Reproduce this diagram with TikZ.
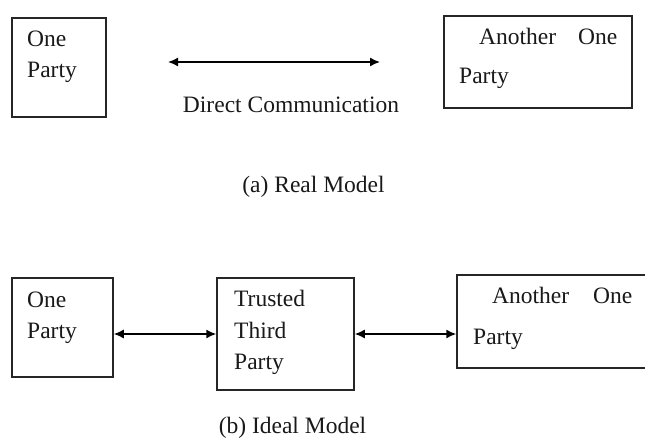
\documentclass[tikz,border=0pt]{standalone}
\usepackage{fontspec}
\setmainfont{Liberation Serif}
\usetikzlibrary{arrows.meta}
\begin{document}
\begin{tikzpicture}[x=1pt,y=-1pt,
  box/.style={draw,line width=1.5pt,inner sep=0pt,draw=black!85},
  lbl/.style={anchor=base west,inner sep=0pt,font=\fontsize{23.5}{28}\selectfont,text=black!90},
  captxt/.style={anchor=base,inner sep=0pt,font=\fontsize{23.5}{28}\selectfont,text=black!90},
  link/.style={line width=1.5pt,{Latex[length=10pt,width=9pt]}-{Latex[length=10pt,width=9pt]}}]
\clip (0,0) rectangle (645,441);
\fill[white] (0,0) rectangle (645,441);
% (a) Real model
\node[box,minimum width=94pt,minimum height=99pt] (a1) at (59,67.5) {};
\node[lbl] (a1t1) at (27,47) {One};
\node[lbl] (a1t2) at (27,78) {Party};
\node[box,minimum width=188pt,minimum height=92pt] (a2) at (538,62) {};
\node[lbl] (a2t1) at (479,45) {Another};
\node[lbl] (a2t2) at (578,45) {One};
\node[lbl] (a2t3) at (459,84) {Party};
\coordinate (al) at (168,62);
\coordinate (ar) at (380,62);
\draw[link] (al) -- (ar);
\node[captxt] (dc) at (291,113) {Direct Communication};
\node[captxt] (capa) at (313.5,192) {(a) Real Model};
% (b) Ideal model
\node[box,minimum width=101pt,minimum height=99pt] (b1) at (62.5,327.5) {};
\node[lbl] (b1t1) at (27,307) {One};
\node[lbl] (b1t2) at (27,338) {Party};
\node[box,minimum width=137pt,minimum height=112pt] (b2) at (285.5,334) {};
\node[lbl] (b2t1) at (234,306) {Trusted};
\node[lbl] (b2t2) at (234,338) {Third};
\node[lbl] (b2t3) at (234,369) {Party};
\node[box,minimum width=200pt,minimum height=93pt] (b3) at (557,321.5) {};
\node[lbl] (b3t1) at (492,303) {Another};
\node[lbl] (b3t2) at (593,303) {One};
\node[lbl] (b3t3) at (473,344) {Party};
\draw[link] (b1.east |- 0,334) -- (b2.west |- 0,334);
\draw[link] (b2.east |- 0,334) -- (b3.west |- 0,334);
\node[captxt] (capb) at (292.5,433) {(b) Ideal Model};
\end{tikzpicture}
\end{document}
